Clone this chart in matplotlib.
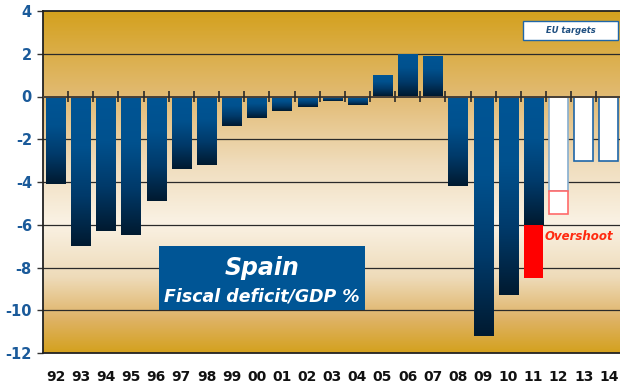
import numpy as np
import matplotlib
matplotlib.use("Agg")
import matplotlib.pyplot as plt
from matplotlib.colors import LinearSegmentedColormap
from matplotlib.patches import Rectangle

years = ["92", "93", "94", "95", "96", "97", "98", "99", "00", "01", "02", "03",
         "04", "05", "06", "07", "08", "09", "10", "11", "12", "13", "14"]
deficit = [-4.1, -7.0, -6.3, -6.5, -4.9, -3.4, -3.2, -1.4, -1.0, -0.7, -0.5, -0.2,
           -0.4, 1.0, 2.0, 1.9, -4.2, -11.2, -9.3, -6.0]
overshoot_11 = -8.5          # actual 2011 outcome vs. target
target_years = ["12", "13", "14"]
eu_targets = [-4.4, -3.0, -3.0]
target_12_revised = -5.5

fig = plt.figure(figsize=(6.2, 3.84), dpi=100)
ax = fig.add_axes([43 / 620, 1 - 353 / 384, 577 / 620, 342 / 384])
xlim = (-0.5, 22.44)
ylim = (-12, 4)
ax.set_xlim(*xlim)
ax.set_ylim(*ylim)

# background gradient: gold at top and bottom, cream in the middle
bg_stops = [(0.0, "#d4a11e"), (0.25, "#e2bb74"), (0.45, "#f0ddbd"),
            (0.62, "#faf2e4"), (0.78, "#eedbb9"), (0.9, "#dfb367"), (1.0, "#d4a11e")]
bg_cmap = LinearSegmentedColormap.from_list("bg", bg_stops)
grad = np.linspace(0, 1, 256).reshape(-1, 1)
ax.imshow(grad, cmap=bg_cmap, aspect="auto", extent=[xlim[0], xlim[1], ylim[0], ylim[1]],
          origin="upper", zorder=0)

# grid lines
for y in [2, -2, -4, -6, -8, -10]:
    ax.axhline(y, color="#2a2a2a", lw=0.9, zorder=1)

# bars with a blue-to-navy vertical gradient
bar_cmap = LinearSegmentedColormap.from_list("bar", ["#001a30", "#003a6a", "#00518e", "#005595"])
bar_grad = np.linspace(0, 1, 128).reshape(-1, 1)
width = 0.76
x_pos = np.arange(len(years))
for i, v in enumerate(deficit):
    top, bot = max(v, 0), min(v, 0)
    im = ax.imshow(bar_grad, cmap=bar_cmap, aspect="auto",
                   extent=[i - width / 2, i + width / 2, bot, top],
                   origin="lower", zorder=2)
    rect = Rectangle((i - width / 2, bot), width, top - bot, transform=ax.transData,
                     facecolor="none", edgecolor="none")
    ax.add_patch(rect)
    im.set_clip_path(rect)

# 2011 overshoot
i11 = years.index("11")
ax.bar(i11, overshoot_11 - deficit[i11], bottom=deficit[i11], width=width,
       color="#ff0000", edgecolor="none", zorder=3)
ax.text(i11 + 0.45, -6.55, "Overshoot", color="#ff2a10", fontsize=8.5,
        fontweight="bold", fontstyle="italic", va="center", ha="left", zorder=5)

# EU targets
edge_cols = ["#86aed0", "#1f66a8", "#1f66a8"]
for yr, t, ec in zip(target_years, eu_targets, edge_cols):
    i = years.index(yr)
    ax.bar(i, t, width=width, color="white", edgecolor=ec, lw=1.2, zorder=3)
i12 = years.index("12")
ax.bar(i12, target_12_revised - eu_targets[0], bottom=eu_targets[0], width=width,
       color="white", edgecolor="#ff6a6a", lw=1.2, zorder=3)

# zero line with separators
ax.axhline(0, color="#4a4036", lw=1.4, zorder=4)
ax.vlines(x_pos[:-1] + 0.5, -0.24, 0.24, color="#2a2a2a", lw=1.2, zorder=4)

# title box
ax.add_patch(Rectangle((4.1, -10.0), 8.2, 3.0, facecolor="#005595", edgecolor="none", zorder=5))
ax.text(8.2, -8.0, "Spain", color="white", fontsize=17, fontweight="bold",
        fontstyle="italic", ha="center", va="center", zorder=6)
ax.text(8.2, -9.35, "Fiscal deficit/GDP %", color="white", fontsize=12.5,
        fontweight="bold", fontstyle="italic", ha="center", va="center", zorder=6)

# legend-like box
ax.add_patch(Rectangle((18.6, 2.62), 3.78, 0.93, facecolor="white", edgecolor="#1f66a8",
                       lw=1.0, zorder=5))
ax.text(20.5, 3.08, "EU targets", color="#1f4f80", fontsize=6, fontweight="bold",
        fontstyle="italic", ha="center", va="center", zorder=6)

# axes styling
ax.set_yticks(np.arange(-12, 5, 2))
ax.set_yticklabels([str(v) for v in range(-12, 5, 2)], fontsize=10.5, fontweight="bold",
                   color="#1a5a9a")
ax.set_xticks(x_pos)
ax.set_xticklabels(years, fontsize=10, fontweight="bold", color="#111111")
ax.tick_params(axis="x", length=0, pad=12)
ax.tick_params(axis="y", length=4, width=1, direction="out", color="#333333", pad=4)
for s in ["left", "top", "bottom"]:
    ax.spines[s].set_color("#222222")
    ax.spines[s].set_linewidth(1.3)
ax.spines["right"].set_visible(False)

fig.savefig("out.png", dpi=100)
